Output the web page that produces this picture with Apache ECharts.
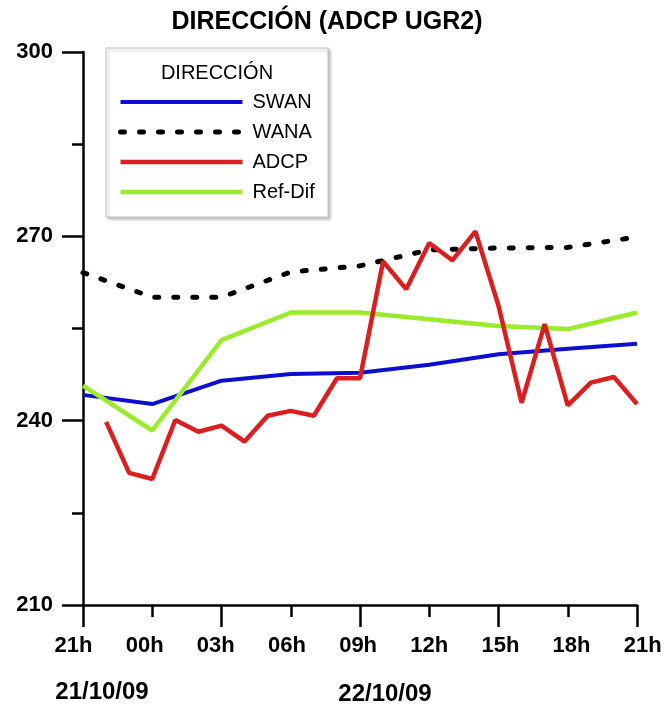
<!DOCTYPE html>
<html>
<head>
<meta charset="utf-8">
<script src="https://cdn.jsdelivr.net/npm/echarts@6/dist/echarts.min.js"></script>
<style>
  html, body { margin: 0; padding: 0; background: #fff; }
  #chart { width: 666px; height: 706px; }
</style>
</head>
<body>
<div id="chart"></div>
<script>
// Time axis: hours elapsed since 21h on 21/10/09
const hourTicks = [0, 3, 6, 9, 12, 15, 18, 21, 24];
const hourLabels = ['21h', '00h', '03h', '06h', '09h', '12h', '15h', '18h', '21h'];
const dateLabels = ['21/10/09', '22/10/09'];

// Model series, every 3 hours (degrees)
const swan   = [244.2, 242.7, 246.5, 247.6, 247.8, 249.1, 250.8, 251.7, 252.5];
const wana   = [264.1, 260.1, 260.1, 264.2, 265.2, 267.8, 268.1, 268.2, 269.9];
const refDif = [245.7, 238.4, 253.1, 257.6, 257.6, 256.5, 255.4, 254.9, 257.6];

// ADCP measurements, hourly from 22h
const adcpHours = [1, 2, 3, 4, 5, 6, 7, 8, 9, 10, 11, 12, 13, 14, 15, 16, 17, 18, 19, 20, 21, 22, 23, 24];
const adcp = [239.8, 231.5, 230.5, 240.1, 238.2, 239.2, 236.6, 240.8, 241.6, 240.8, 246.9, 246.9,
              265.9, 261.4, 268.9, 266.1, 270.8, 258.7, 242.9, 255.7, 242.5, 246.2, 247.1, 242.7];

const FONT = "'Liberation Sans', Arial, sans-serif";

function pairs(xs, ys) { return xs.map((x, i) => [x, ys[i]]); }

// Hour labels are spread a little wider than the ticks: shift each one
// sideways through rich-text padding (left labels move left, right ones right).
const labelRich = {};
hourTicks.forEach((t, i) => {
  const shift = -9.5 + 1.9 * i;
  labelRich['h' + i] = {
    fontFamily: FONT, fontSize: 22, fontWeight: 'bold', color: '#000',
    padding: shift < 0 ? [0, -2 * shift, 0, 0] : [0, 0, 0, 2 * shift]
  };
});

const chart = echarts.init(document.getElementById('chart'), null, { renderer: 'canvas' });

const axisLine = { show: true, lineStyle: { color: '#000', width: 2.5 } };

chart.setOption({
  backgroundColor: '#fff',
  animation: false,
  title: {
    text: 'DIRECCIÓN (ADCP UGR2)',
    left: 322,
    top: 5,
    textAlign: 'center',
    textStyle: { fontFamily: FONT, fontSize: 25, fontWeight: 'bold', color: '#000' }
  },
  grid: { left: 83, right: 29, top: 52, bottom: 101, containLabel: false },
  xAxis: [
    {
      type: 'value', min: 0, max: 24, interval: 3,
      axisLine: axisLine,
      axisTick: { show: true, length: 12, lineStyle: { color: '#000', width: 2.5 } },
      splitLine: { show: false },
      axisLabel: {
        show: true, margin: 30, color: '#000',
        fontFamily: FONT, fontSize: 22, fontWeight: 'bold',
        formatter: v => {
          const i = hourTicks.indexOf(v);
          return i >= 0 ? '{h' + i + '|' + hourLabels[i] + '}' : '';
        },
        rich: labelRich
      }
    },
    {
      // longer ticks every 6 hours
      type: 'value', min: 0, max: 24, interval: 6, position: 'bottom',
      axisLine: { show: false },
      axisTick: { show: true, length: 22, lineStyle: { color: '#000', width: 2.5 } },
      splitLine: { show: false },
      axisLabel: { show: false }
    }
  ],
  yAxis: {
    type: 'value', min: 210, max: 300, interval: 30,
    axisLine: axisLine,
    axisTick: { show: true, length: 21, lineStyle: { color: '#000', width: 2.5 } },
    minorTick: { show: true, splitNumber: 2, length: 11, lineStyle: { color: '#000', width: 2.5 } },
    splitLine: { show: false },
    minorSplitLine: { show: false },
    axisLabel: {
      margin: 30, color: '#000',
      fontFamily: FONT, fontSize: 22, fontWeight: 'bold'
    }
  },
  legend: {
    orient: 'vertical',
    left: 118, top: 92,
    padding: 0,
    itemGap: 10,
    itemWidth: 122,
    itemHeight: 6,
    z: 10,
    data: ['SWAN', 'WANA', 'ADCP', 'Ref-Dif'],
    itemStyle: { opacity: 0 },
    lineStyle: { width: 'inherit', type: 'inherit', cap: 'inherit' },
    textStyle: { fontFamily: FONT, fontSize: 20, color: '#000', lineHeight: 20, padding: [0, 0, 0, 5] },
    selectedMode: false
  },
  graphic: [
    {
      type: 'rect', z: 5,
      shape: { x: 106, y: 48, width: 222, height: 169 },
      style: { fill: '#fff', stroke: '#c4c4c4', lineWidth: 1,
               shadowBlur: 3, shadowColor: 'rgba(0,0,0,0.25)', shadowOffsetX: 2, shadowOffsetY: 2 }
    },
    {
      type: 'text', z: 11, x: 217, y: 73,
      style: { text: 'DIRECCIÓN', align: 'center', verticalAlign: 'middle', fill: '#000',
               font: '20px ' + FONT }
    },
    {
      type: 'text', z: 11, x: 102, y: 692,
      style: { text: dateLabels[0], align: 'center', verticalAlign: 'middle', fill: '#000',
               font: 'bold 24px ' + FONT }
    },
    {
      type: 'text', z: 11, x: 385, y: 694,
      style: { text: dateLabels[1], align: 'center', verticalAlign: 'middle', fill: '#000',
               font: 'bold 24px ' + FONT }
    }
  ],
  series: [
    {
      name: 'SWAN', type: 'line', symbol: 'none', z: 2,
      data: pairs(hourTicks, swan),
      lineStyle: { color: '#0e0ed0', width: 4 }, itemStyle: { color: '#0e0ed0' }
    },
    {
      name: 'WANA', type: 'line', symbol: 'none', z: 3,
      data: pairs(hourTicks, wana),
      lineStyle: { color: '#000', width: 5, type: [4, 15], cap: 'round' }, itemStyle: { color: '#000' }
    },
    {
      name: 'Ref-Dif', type: 'line', symbol: 'none', z: 4,
      data: pairs(hourTicks, refDif),
      lineStyle: { color: '#9aeb2c', width: 4.5 }, itemStyle: { color: '#9aeb2c' }
    },
    {
      name: 'ADCP', type: 'line', symbol: 'none', z: 5,
      data: pairs(adcpHours, adcp),
      lineStyle: { color: '#dc1e1e', width: 4.5 }, itemStyle: { color: '#dc1e1e' }
    }
  ]
});
</script>
</body>
</html>
